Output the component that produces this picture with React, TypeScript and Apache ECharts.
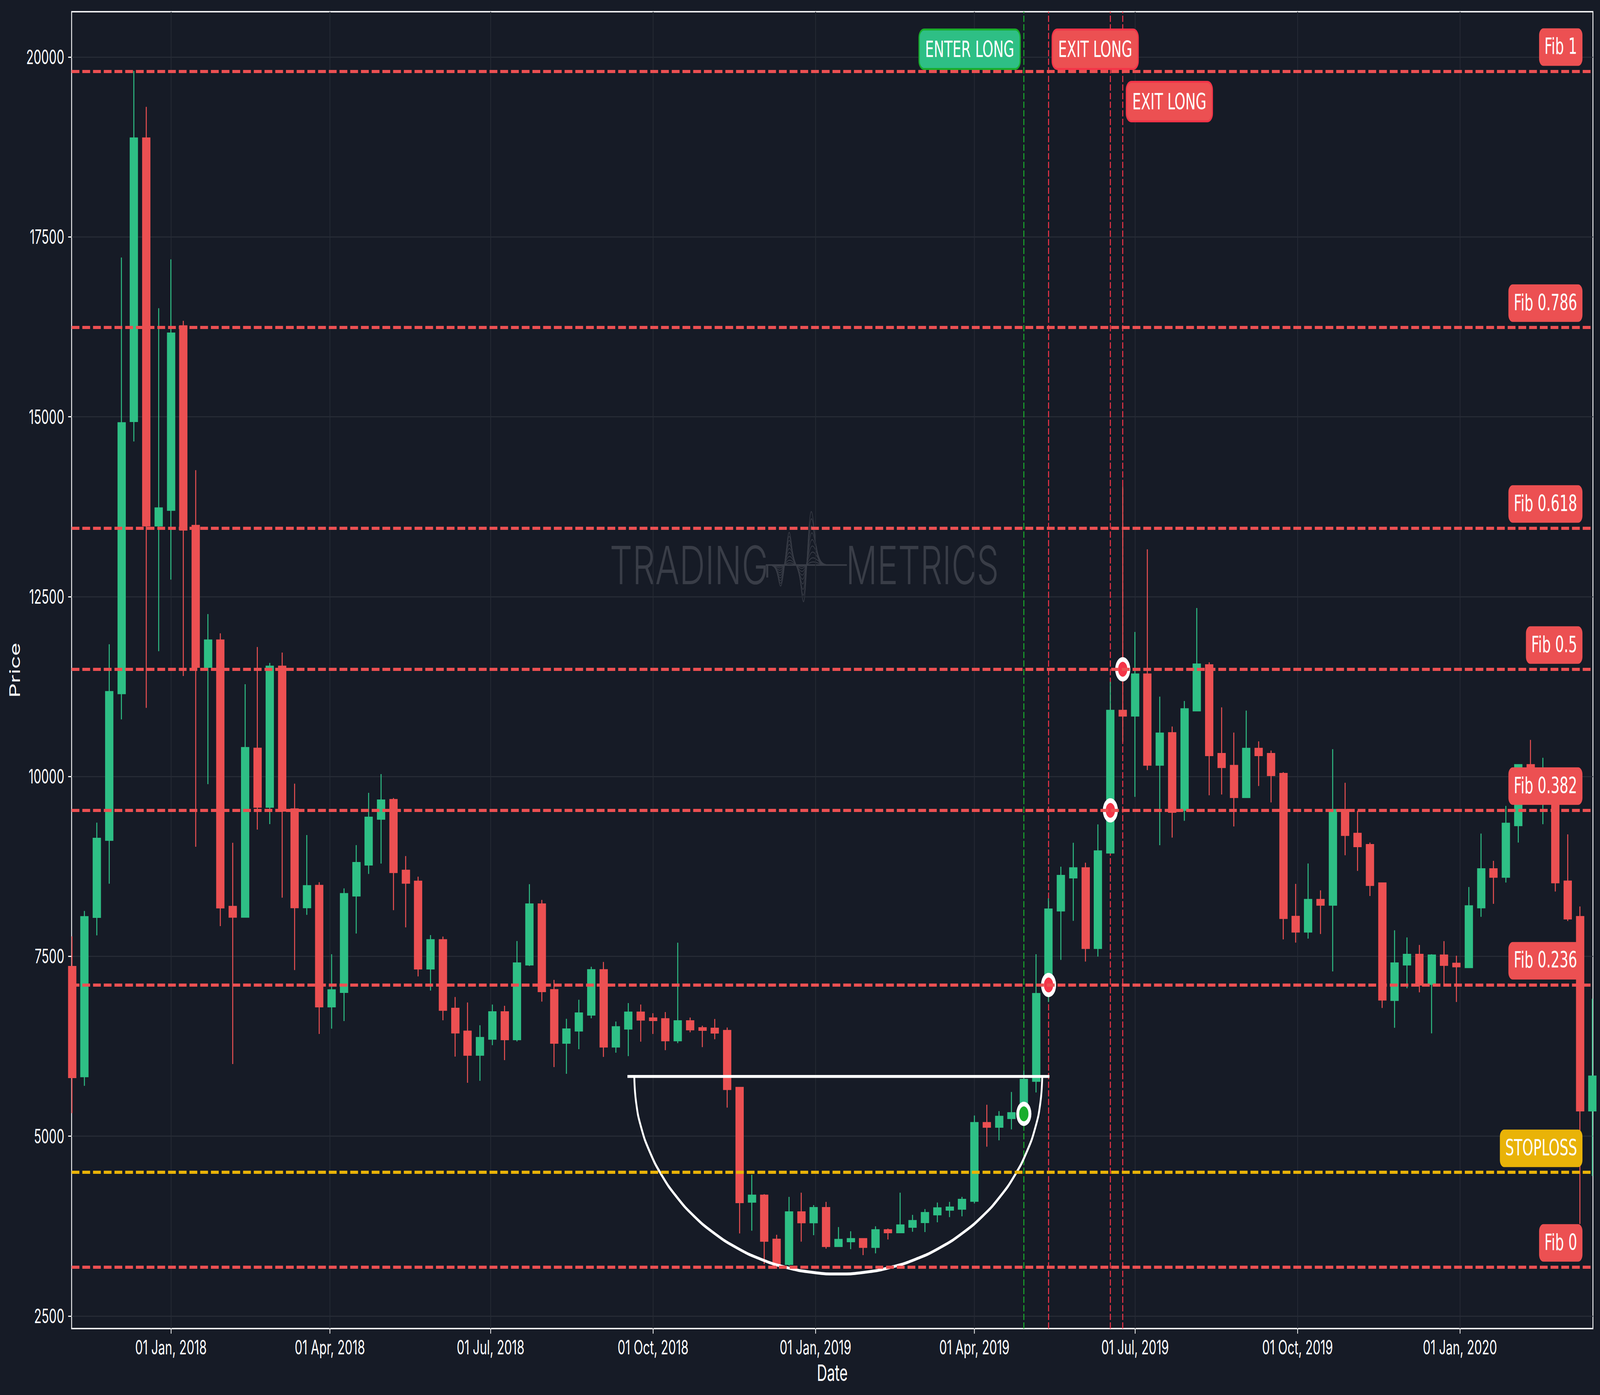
import React, { useEffect, useRef } from "react";
import * as echarts from "echarts";

const DAY = 86400000;
const T0 = Date.UTC(2018, 0, 1);
const firstWeek = Date.UTC(2017, 10, 6);
const DESIGN_W = 6569;
const DESIGN_H = 3570;

const opens = [7355,5830,8045,9116,11155,14938,18872,13486,13703,16260,13486,11522,11893,8190,8048,10389,9577,11529,9546,8180,8482,6802,7003,8343,8773,9410,9676,8693,8541,7329,7727,6775,6456,6130,6352,6726,6345,7384,8225,7034,6297,6466,6688,7311,6244,6493,6722,6640,6629,6331,6601,6504,6497,6466,5674,4087,4177,3565,3222,3945,3800,4004,3471,3537,3572,3458,3696,3662,3738,3803,3911,3976,3989,4099,5186,5129,5250,5323,5767,6976,8135,8594,8727,7614,8940,10916,10844,11421,10161,10605,9534,10916,11548,10316,10150,9711,10388,10316,10039,8052,7841,8287,8215,9538,9206,9050,8516,6891,7384,7524,7114,7514,7400,7348,8178,8713,8604,9320,10161,9700,10000,8542,8049,5355];
const closes = [5818,8048,9137,11176,14913,18872,13486,13729,16160,13429,11522,11893,8177,8048,10399,9577,11529,9522,8180,8478,6802,7031,8368,8800,9431,9669,8669,8520,7329,7727,6754,6439,6130,6369,6726,6345,7405,8225,7013,6297,6487,6709,7311,6244,6518,6722,6618,6612,6331,6601,6483,6476,6438,5653,4080,4177,3544,3209,3945,3800,4004,3471,3561,3572,3458,3696,3662,3762,3824,3935,4000,4011,4118,5186,5129,5273,5323,5786,6979,8154,8621,8727,7614,8962,10916,10844,11421,10161,10599,9506,10938,11560,10294,10128,9711,10388,10294,10017,8030,7841,8287,8215,9538,9185,9029,8490,6896,7405,7524,7104,7514,7379,7358,8199,8713,8604,9346,10161,9900,9950,8526,8023,5355,5832];
const lows = [5320,5700,7792,8510,10794,14657,10954,11741,12737,11397,9023,9893,7920,6003,8038,9262,9338,8315,7310,8076,6421,6494,6601,7817,8645,8790,8142,7903,7221,7024,6611,6106,5742,5770,6265,6058,6317,7366,6871,5961,5867,6210,6639,6102,6161,6113,6314,6421,6196,6293,6445,6238,6348,5398,3648,3686,3222,3157,3202,3534,3624,3437,3464,3430,3347,3371,3565,3651,3672,3668,3803,3876,3886,4065,4855,4943,5095,5270,5608,6865,7451,7994,7428,7497,8940,10483,9717,10089,9045,9151,9384,10916,9739,9750,9306,9700,9867,9639,7736,7691,7747,7810,7291,8905,8687,8339,6782,6507,7057,7000,6429,7078,6865,7338,8049,8230,8526,9081,9700,9336,8401,7991,3780,4447];
const highs = [7778,8131,9359,11838,17213,19807,19308,16509,17188,16334,14258,12257,11990,9078,11283,11800,11578,11723,9900,9186,8530,7530,8444,9046,9773,10033,9700,8894,8607,7796,7775,6934,6858,6542,6830,6813,7713,8503,8284,7172,6632,6896,7356,7422,6594,6850,6830,6709,6725,7690,6649,6535,6629,6511,5681,4464,4194,3630,4156,4215,4042,4087,3737,3679,3579,3748,3717,4215,3907,3987,4077,4087,4156,5288,5437,5349,5615,5912,7530,8306,8746,9079,8801,9334,11315,14035,12009,13158,11110,10694,11049,12342,11587,10960,10610,10916,10488,10360,10061,8507,8791,8417,10379,9912,9522,9081,8516,7862,7763,7659,7530,7711,7509,8464,9206,8827,9590,10171,10509,10260,10020,9196,8194,6912];

const yTicks = [2500, 5000, 7500, 10000, 12500, 15000, 17500, 20000];
const xTicks = ["2018-01-01","2018-04-01","2018-07-01","2018-10-01","2019-01-01","2019-04-01","2019-07-01","2019-10-01","2020-01-01"];
const monthNames = ["Jan","Feb","Mar","Apr","May","Jun","Jul","Aug","Sep","Oct","Nov","Dec"];

const fibNames = ["Fib 1","Fib 0.786","Fib 0.618","Fib 0.5","Fib 0.382","Fib 0.236","Fib 0"];
const fibValues = [19802, 16243, 13451, 11490, 9529, 7102, 3180];
const stopName = "STOPLOSS";
const stopValue = 4500;

const enterWeeks = [77];
const enterPrices = [5311];
const exitWeeks = [79, 84, 85];
const exitPrices = [7102, 9529, 11490];
const tagWeeks = [77, 79, 85];
const tagPrices = [20109, 20109, 19381];

const rimDays = [258.5, 497.5];
const rimPrice = 5831;
const cupDays = [262.4,263.4,266.3,271.2,277.9,286.3,296.2,307.6,320.1,333.7,348.0,362.8,377.9,393.0,407.8,422.1,435.7,448.2,459.6,469.5,477.9,484.6,489.5,492.4,493.4];
const cupPrices = [5831,5473,5120,4780,4458,4159,3889,3652,3453,3294,3179,3109,3085,3109,3179,3294,3453,3652,3889,4159,4458,4780,5120,5473,5831];

const BG = "#161B26";
const UP = "#2EBF85";
const DOWN = "#EC5052";
const ENTER = "#19AD2C";
const EXIT = "#F43448";
const GOLD = "#E9B308";
const GRIDC = "#262B35";
const MARK = "#393D47";
const TICKFONT = "Inter";
const NOTEFONT = "DejaVu Sans";

const weekTs = (i: number) => firstWeek + i * 7 * DAY;
const dayTs = (d: number) => T0 + d * DAY;

const yMin = 2326;
const yMax = 20630;
const xMin = dayTs(-56.28);
const xMax = dayTs(805.3);

function logoElements(): any[] {
  const base = 1446;
  const out: any[] = [];
  const scales = [1, 0.88, 0.76, 0.64, 0.52, 0.4, 0.28, 0.16, 0.07];
  const g = (x: number, c: number, s: number) => Math.exp(-((x - c) * (x - c)) / (2 * s * s));
  for (const s of scales) {
    const pts: number[][] = [];
    for (let x = 3170; x <= 3440; x += 2) {
      const sig = 1 + (1 - s) * 0.9;
      const d =
        54 * g(x, 3205, 10 * sig) -
        84 * g(x, 3240, 10 * sig) +
        108 * g(x, 3301, 11 * sig) -
        140 * g(x, 3330, 14 * sig);
      pts.push([x, base + d * s]);
    }
    out.push({ type: "polyline", z: 0, silent: true, shape: { points: pts }, style: { stroke: MARK, lineWidth: 2.2, fill: "none" } });
  }
  out.push({ type: "line", z: 0, silent: true, shape: { x1: 3144, y1: base, x2: 3477, y2: base }, style: { stroke: MARK, lineWidth: 4 } });
  out.push({ type: "line", z: 0, silent: true, shape: { x1: 3150, y1: base, x2: 3150, y2: 1478 }, style: { stroke: MARK, lineWidth: 8 } });
  const txt = (t: string, x: number, sx: number) => ({
    type: "text", z: 0, silent: true, x, y: 1446, scaleX: sx,
    style: { text: t, fill: MARK, font: "300 135px Inter", textAlign: "left", textVerticalAlign: "middle" },
  });
  out.push(txt("TRADING", 2503, 1.09), txt("METRICS", 3473, 1.06));
  return out;
}

export default function App() {
  const ref = useRef<HTMLDivElement>(null);
  useEffect(() => {
    document.body.style.margin = "0";
    document.body.style.background = BG;
    document.body.style.overflow = "hidden";
    const fit = () => {
      const sx = Math.min(1, window.innerWidth / DESIGN_W);
      const sy = Math.min(1, window.innerHeight / DESIGN_H);
      ref.current!.style.transform = `scale(${sx}, ${sy})`;
    };
    fit();
    const chart = echarts.init(ref.current!, null, { renderer: "svg" });
    const noteLabel = (bg: string, border: string, bw: number) => ({
      show: true,
      color: "#FFFFFF",
      opacity: 1,
      fontFamily: NOTEFONT,
      fontSize: 56.6,
      lineHeight: 60,
      backgroundColor: bg,
      borderColor: border,
      borderWidth: bw,
      borderRadius: 18,
      padding: [16, 22, 20, 22],
    });
    const vertical = (week: number, color: string) => ({
      type: "line",
      z: 1,
      silent: true,
      symbol: "none",
      animation: false,
      lineStyle: { color, width: 4, type: [16, 6] },
      data: [[weekTs(week), yMin], [weekTs(week), yMax]],
    });
    const xTickValues = xTicks.map((d) => Date.parse(d + "T00:00:00Z"));
    const option: any = {
      animation: false,
      backgroundColor: BG,
      grid: {
        show: true,
        left: 294,
        right: 29,
        top: 30,
        bottom: 170,
        backgroundColor: BG,
        borderColor: "#FFFFFF",
        borderWidth: 3.5,
      },
      xAxis: {
        type: "value",
        min: xMin,
        max: xMax,
        scale: true,
        name: "Date",
        nameLocation: "middle",
        nameGap: 84,
        nameTextStyle: { color: "#FFFFFF", fontFamily: TICKFONT, fontSize: 58 },
        axisLine: { show: false },
        axisTick: { show: true, length: 13, lineStyle: { color: "#FFFFFF", width: 3 }, customValues: xTickValues },
        axisLabel: {
          color: "#FFFFFF",
          fontFamily: TICKFONT,
          fontSize: 50,
          margin: 23,
          customValues: xTickValues,
          formatter: (v: number) => {
            const d = new Date(v);
            return `${String(d.getUTCDate()).padStart(2, "0")} ${monthNames[d.getUTCMonth()]}, ${d.getUTCFullYear()}`;
          },
        },
        splitLine: { show: true, lineStyle: { color: GRIDC, width: 3 } },
      },
      yAxis: {
        type: "value",
        min: yMin,
        max: yMax,
        scale: true,
        name: "Price",
        nameLocation: "middle",
        nameGap: 205,
        nameTextStyle: { color: "#FFFFFF", fontFamily: TICKFONT, fontSize: 58 },
        axisLine: { show: false },
        axisTick: { show: true, length: 14, lineStyle: { color: "#FFFFFF", width: 3 }, customValues: yTicks },
        axisLabel: {
          color: "#FFFFFF",
          fontFamily: TICKFONT,
          fontSize: 50,
          margin: 30,
          customValues: yTicks,
          formatter: (v: number) => String(v),
        },
        splitLine: { show: true, lineStyle: { color: GRIDC, width: 3 } },
      },
      graphic: { elements: logoElements() },
      series: [
        vertical(enterWeeks[0], ENTER),
        ...exitWeeks.map((w) => vertical(w, EXIT)),
        {
          type: "candlestick",
          z: 2,
          silent: true,
          barWidth: 30.5,
          encode: { x: 0, y: [1, 2, 3, 4] },
          itemStyle: { color: UP, color0: DOWN, borderColor: UP, borderColor0: DOWN, borderWidth: 4 },
          data: opens.map((o, i) => [weekTs(i), o, closes[i], lows[i], highs[i]]),
        },
        {
          type: "line",
          z: 3,
          silent: true,
          symbol: "none",
          smooth: true,
          lineStyle: { color: "#FFFFFF", width: 7.5 },
          data: cupDays.map((d, i) => [dayTs(d), cupPrices[i]]),
        },
        {
          type: "line",
          z: 3,
          silent: true,
          symbol: "none",
          lineStyle: { color: "#FFFFFF", width: 7.5 },
          data: rimDays.map((d) => [dayTs(d), rimPrice]),
        },
        {
          type: "scatter",
          z: 4,
          silent: true,
          symbolSize: 50,
          itemStyle: { color: ENTER, borderColor: "#FFFFFF", borderWidth: 12, opacity: 1 },
          data: enterWeeks.map((w, i) => [weekTs(w), enterPrices[i]]),
        },
        {
          type: "scatter",
          z: 4,
          silent: true,
          symbolSize: 50,
          itemStyle: { color: EXIT, borderColor: "#FFFFFF", borderWidth: 12, opacity: 1 },
          data: exitWeeks.map((w, i) => [weekTs(w), exitPrices[i]]),
        },
        {
          type: "line",
          z: 5,
          silent: true,
          showSymbol: false,
          symbol: "none",
          data: [],
          markLine: {
            z: 5,
            silent: true,
            symbol: ["none", "none"],
            animation: false,
            data: [
              ...fibNames.map((name, i) => ({
                name,
                yAxis: fibValues[i],
                lineStyle: { color: DOWN, width: 8, type: [32, 12], opacity: 1 },
                label: { ...noteLabel(DOWN, DOWN, 0), position: "insideEndTop", distance: [43, 14], formatter: name },
              })),
              {
                name: stopName,
                yAxis: stopValue,
                lineStyle: { color: GOLD, width: 8, type: [32, 12], opacity: 1 },
                label: { ...noteLabel(GOLD, GOLD, 0), position: "insideEndTop", distance: [43, 13], formatter: stopName },
              },
            ],
          },
        },
        {
          type: "scatter",
          z: 6,
          silent: true,
          symbolSize: 1,
          itemStyle: { color: "transparent", opacity: 1 },
          data: tagWeeks.map((w, i) => ({
            value: [weekTs(w), tagPrices[i]],
            label: i === 0
              ? { ...noteLabel(UP, ENTER, 5), position: "left", distance: 17, formatter: "ENTER LONG" }
              : { ...noteLabel(DOWN, EXIT, 5), position: "right", distance: 17, formatter: "EXIT LONG" },
          })),
        },
      ],
    };
    chart.setOption(option);
    return () => chart.dispose();
  }, []);
  return (
    <div
      ref={ref}
      style={{ position: "absolute", left: 0, top: 0, width: DESIGN_W, height: DESIGN_H, transformOrigin: "0 0" }}
    />
  );
}
